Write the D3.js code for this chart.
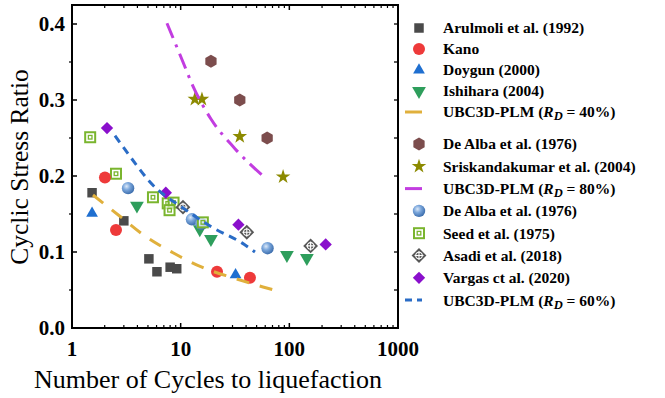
<!DOCTYPE html>
<html>
<head>
<meta charset="utf-8">
<script src="https://cdn.jsdelivr.net/npm/d3@7"></script>
<style>
  html, body { margin: 0; padding: 0; background: #fff; }
  svg { display: block; }
</style>
</head>
<body>
<svg id="chart" width="665" height="398"></svg>
<script>
// ---- data: number of cycles to liquefaction (N) and cyclic stress ratio (CSR) ----
const arulmoliN   = [1.53, 3.0, 5.1, 6.05, 8.0, 9.2];
const arulmoliCSR = [0.178, 0.141, 0.091, 0.074, 0.080, 0.078];
const kanoN   = [2.01, 2.54, 21.6, 43.4];
const kanoCSR = [0.198, 0.129, 0.074, 0.066];
const doygunN   = [1.53, 32];
const doygunCSR = [0.151, 0.070];
const ishiharaN   = [3.96, 15, 19, 95, 145];
const ishiharaCSR = [0.161, 0.130, 0.117, 0.096, 0.092];
const ubc40N   = [1.56, 2.76, 4.69, 8.5, 15.7, 30.3, 57.2, 76.9];
const ubc40CSR = [0.175, 0.147, 0.121, 0.099, 0.080, 0.066, 0.054, 0.049];

const deAlbaDenseN   = [19, 35, 62.5];
const deAlbaDenseCSR = [0.351, 0.300, 0.250];
const sriskN   = [13.5, 15.7, 35, 87.6];
const sriskCSR = [0.301, 0.301, 0.252, 0.199];
const ubc80N   = [7.48, 10.3, 13.0, 19.0, 31.6, 57.2];
const ubc80CSR = [0.401, 0.353, 0.318, 0.275, 0.236, 0.200];

const deAlbaMedN   = [3.28, 12.7, 15.5, 63];
const deAlbaMedCSR = [0.184, 0.143, 0.137, 0.105];
const seedN   = [1.47, 2.54, 5.56, 7.6, 8.6, 7.9, 16];
const seedCSR = [0.251, 0.203, 0.172, 0.164, 0.165, 0.155, 0.139];
const asadiN   = [10.5, 40.6, 157];
const asadiCSR = [0.159, 0.126, 0.108];
const vargasN   = [2.1, 7.3, 34, 216];
const vargasCSR = [0.263, 0.178, 0.136, 0.110];
const ubc60N   = [2.49, 3.80, 5.22, 10.5, 19.8, 36.6, 48.3];
const ubc60CSR = [0.253, 0.217, 0.192, 0.158, 0.132, 0.112, 0.100];

// ---- axis ticks ----
const xTickValues = [1, 10, 100, 1000];
const xTickLabels = ["1", "10", "100", "1000"];
const yTickValues = [0, 0.1, 0.2, 0.3, 0.4];
const yTickLabels = ["0.0", "0.1", "0.2", "0.3", "0.4"];

// ---- legend labels ----
const legendGroupA = ["Arulmoli et al. (1992)", "Kano", "Doygun (2000)", "Ishihara (2004)", "UBC3D-PLM|40%"];
const legendGroupB = ["De Alba et al. (1976)", "Sriskandakumar et al. (2004)", "UBC3D-PLM|80%",
                      "De Alba et al. (1976)", "Seed et al. (1975)", "Asadi et al. (2018)",
                      "Vargas ct al. (2020)", "UBC3D-PLM|60%"];

const zip = (a, b) => a.map((v, i) => ({ n: v, csr: b[i] }));

const FONT = "Liberation Serif";
const svg = d3.select("#chart");
const pLeft = 72, pRight = 398, pTop = 5, pBottom = 328;

const x = d3.scaleLog().domain([1, 1000]).range([pLeft, pRight]);
const y = d3.scaleLinear().domain([0, 0.425]).range([pBottom, pTop]);

// gradient for the shaded spheres
const defs = svg.append("defs");
const grad = defs.append("radialGradient").attr("id", "sphere")
  .attr("cx", "38%").attr("cy", "35%").attr("r", "65%");
grad.append("stop").attr("offset", "0%").attr("stop-color", "#dce9f8");
grad.append("stop").attr("offset", "45%").attr("stop-color", "#7aa6db");
grad.append("stop").attr("offset", "100%").attr("stop-color", "#3e6fae");

// ---- marker drawers ----
const sym = (type, size) => d3.symbol().type(type).size(size)();
const hexPath = r => {
  const pts = d3.range(6).map(i => {
    const a = Math.PI / 6 + i * Math.PI / 3;
    return [r * Math.cos(a), r * Math.sin(a)];
  });
  return "M" + pts.map(p => p.join(",")).join("L") + "Z";
};

const markers = {
  square: g => g.append("path").attr("d", sym(d3.symbolSquare, 90)).attr("fill", "#4a4a4a"),
  circle: g => g.append("circle").attr("r", 6).attr("fill", "#ee3a3a"),
  triUp: g => g.append("path").attr("d", sym(d3.symbolTriangle, 60)).attr("fill", "#1f6fd0"),
  triDown: g => g.append("path").attr("d", sym(d3.symbolTriangle, 82)).attr("transform", "rotate(180)").attr("fill", "#2e9e5c"),
  hex: g => g.append("path").attr("d", hexPath(6.5)).attr("fill", "#7c4d4d"),
  star: g => g.append("path").attr("d", sym(d3.symbolStar, 66)).attr("fill", "#8c8a00"),
  sphere: g => g.append("circle").attr("r", 6.2).attr("fill", "url(#sphere)"),
  seed: g => {
    g.append("rect").attr("x", -5).attr("y", -5).attr("width", 10).attr("height", 10)
      .attr("fill", "#fff").attr("fill-opacity", 0.6).attr("stroke", "#7ab52e").attr("stroke-width", 2);
    g.append("rect").attr("x", -1.8).attr("y", -1.8).attr("width", 3.6).attr("height", 3.6)
      .attr("fill", "none").attr("stroke", "#7ab52e").attr("stroke-width", 1.3);
  },
  asadi: g => {
    g.append("path").attr("d", sym(d3.symbolSquare, 110)).attr("transform", "rotate(45)").attr("fill", "#575757");
    g.append("circle").attr("r", 3.3).attr("fill", "none").attr("stroke", "#fff").attr("stroke-width", 1.1);
    g.append("path").attr("d", "M-4.5,0H4.5M0,-4.5V4.5").attr("stroke", "#fff").attr("stroke-width", 1.1);
  },
  vargas: g => g.append("path").attr("d", sym(d3.symbolSquare, 76)).attr("transform", "rotate(45)").attr("fill", "#8a0fcc")
};

const lineStyles = {
  ubc40: { color: "#e0b03c", dash: "13,11" },
  ubc80: { color: "#c23de0", dash: "16,7,3,7" },
  ubc60: { color: "#2a6cc6", dash: "8,6" }
};

// ---- scatter series ----
const scatter = [
  { data: zip(arulmoliN, arulmoliCSR), m: "square" },
  { data: zip(doygunN, doygunCSR), m: "triUp" },
  { data: zip(ishiharaN, ishiharaCSR), m: "triDown" },
  { data: zip(deAlbaDenseN, deAlbaDenseCSR), m: "hex" },
  { data: zip(sriskN, sriskCSR), m: "star" },
  { data: zip(deAlbaMedN, deAlbaMedCSR), m: "sphere" },
  { data: zip(seedN, seedCSR), m: "seed" },
  { data: zip(asadiN, asadiCSR), m: "asadi" },
  { data: zip(vargasN, vargasCSR), m: "vargas" },
  { data: zip(kanoN, kanoCSR), m: "circle" }
];

const plot = svg.append("g");
scatter.forEach(s => {
  s.data.forEach(d => {
    const g = plot.append("g").attr("transform", `translate(${x(d.n)},${y(d.csr)})`);
    markers[s.m](g);
  });
});

// ---- model curves ----
const curves = [
  { data: zip(ubc40N, ubc40CSR), st: lineStyles.ubc40 },
  { data: zip(ubc80N, ubc80CSR), st: lineStyles.ubc80 },
  { data: zip(ubc60N, ubc60CSR), st: lineStyles.ubc60 }
];
const line = d3.line().x(d => x(d.n)).y(d => y(d.csr)).curve(d3.curveMonotoneX);
curves.forEach(c => {
  plot.append("path").attr("d", line(c.data)).attr("fill", "none")
    .attr("stroke", c.st.color).attr("stroke-width", 3).attr("stroke-dasharray", c.st.dash);
});

// ---- axes (ticks point into the frame) ----
const minorX = [];
[1, 10, 100].forEach(b => d3.range(2, 10).forEach(k => minorX.push(b * k)));
const minorY = [0.05, 0.15, 0.25, 0.35];
const allY = [0, 0.05, 0.1, 0.15, 0.2, 0.25, 0.3, 0.35, 0.4];

const axisG = svg.append("g").attr("stroke", "#000");
xTickValues.forEach(v => axisG.append("line").attr("x1", x(v)).attr("x2", x(v)).attr("y1", pBottom).attr("y2", pBottom - 5).attr("stroke-width", 1.5));
minorX.forEach(v => axisG.append("line").attr("x1", x(v)).attr("x2", x(v)).attr("y1", pBottom).attr("y2", pBottom - 3).attr("stroke-width", 1.2));
xTickValues.forEach(v => axisG.append("line").attr("x1", x(v)).attr("x2", x(v)).attr("y1", pTop).attr("y2", pTop + 5).attr("stroke-width", 1.5));
minorX.forEach(v => axisG.append("line").attr("x1", x(v)).attr("x2", x(v)).attr("y1", pTop).attr("y2", pTop + 3).attr("stroke-width", 1.2));
yTickValues.forEach(v => axisG.append("line").attr("x1", pLeft).attr("x2", pLeft + 5).attr("y1", y(v)).attr("y2", y(v)).attr("stroke-width", 1.5));
minorY.forEach(v => axisG.append("line").attr("x1", pLeft).attr("x2", pLeft - 3).attr("y1", y(v)).attr("y2", y(v)).attr("stroke-width", 1.2));
allY.forEach(v => axisG.append("line").attr("x1", pRight).attr("x2", pRight - 4).attr("y1", y(v)).attr("y2", y(v)).attr("stroke-width", 1.3));

// frame
svg.append("rect").attr("x", pLeft).attr("y", pTop).attr("width", pRight - pLeft).attr("height", pBottom - pTop)
  .attr("fill", "none").attr("stroke", "#000").attr("stroke-width", 2);

// tick labels
svg.append("g").selectAll("text").data(xTickValues).join("text")
  .attr("font-family", FONT)
  .attr("x", d => x(d)).attr("y", 356).attr("text-anchor", "middle")
  .attr("font-size", 21).attr("font-weight", "bold")
  .text((d, i) => xTickLabels[i]);
svg.append("g").selectAll("text").data(yTickValues).join("text")
  .attr("font-family", FONT)
  .attr("x", 65).attr("y", d => y(d)).attr("dy", "0.35em").attr("text-anchor", "end")
  .attr("font-size", 21).attr("font-weight", "bold")
  .text((d, i) => yTickLabels[i]);

// axis titles
svg.append("text").attr("font-family", FONT).attr("x", 208).attr("y", 388).attr("text-anchor", "middle")
  .attr("font-size", 26).text("Number of Cycles to liquefaction");
svg.append("text").attr("font-family", FONT).attr("transform", "translate(28,167) rotate(-90)").attr("text-anchor", "middle")
  .attr("font-size", 25.5).text("Cyclic Stress Ratio");

// ---- legend ----
const legendKeysA = ["square", "circle", "triUp", "triDown", "ubc40"];
const legendKeysB = ["hex", "star", "ubc80", "sphere", "seed", "asadi", "vargas", "ubc60"];

function drawLegend(labels, keys, y0, step) {
  labels.forEach((lab, i) => {
    const yy = y0 + i * step;
    const key = keys[i];
    if (lineStyles[key]) {
      const st = lineStyles[key];
      const dash = key === "ubc60" ? "7,5" : null;
      svg.append("line").attr("x1", 405).attr("x2", 422).attr("y1", yy).attr("y2", yy)
        .attr("stroke", st.color).attr("stroke-width", 3).attr("stroke-dasharray", dash);
    } else {
      const g = svg.append("g").attr("transform", `translate(419,${yy})`);
      markers[key](g);
    }
    const t = svg.append("text").attr("font-family", FONT).attr("x", 443).attr("y", yy).attr("dy", "0.35em")
      .attr("font-size", 15.5).attr("font-weight", "bold");
    if (lab.includes("|")) {
      const [name, pct] = lab.split("|");
      t.append("tspan").text(name + " (");
      t.append("tspan").attr("font-style", "italic").text("R");
      t.append("tspan").attr("font-style", "italic").attr("font-size", 12.5).attr("dy", 3).text("D");
      t.append("tspan").attr("dy", -3).text(" = " + pct + ")");
    } else {
      t.text(lab);
    }
  });
}
drawLegend(legendGroupA, legendKeysA, 28, 21);
drawLegend(legendGroupB, legendKeysB, 144, 22.3);
</script>
</body>
</html>
